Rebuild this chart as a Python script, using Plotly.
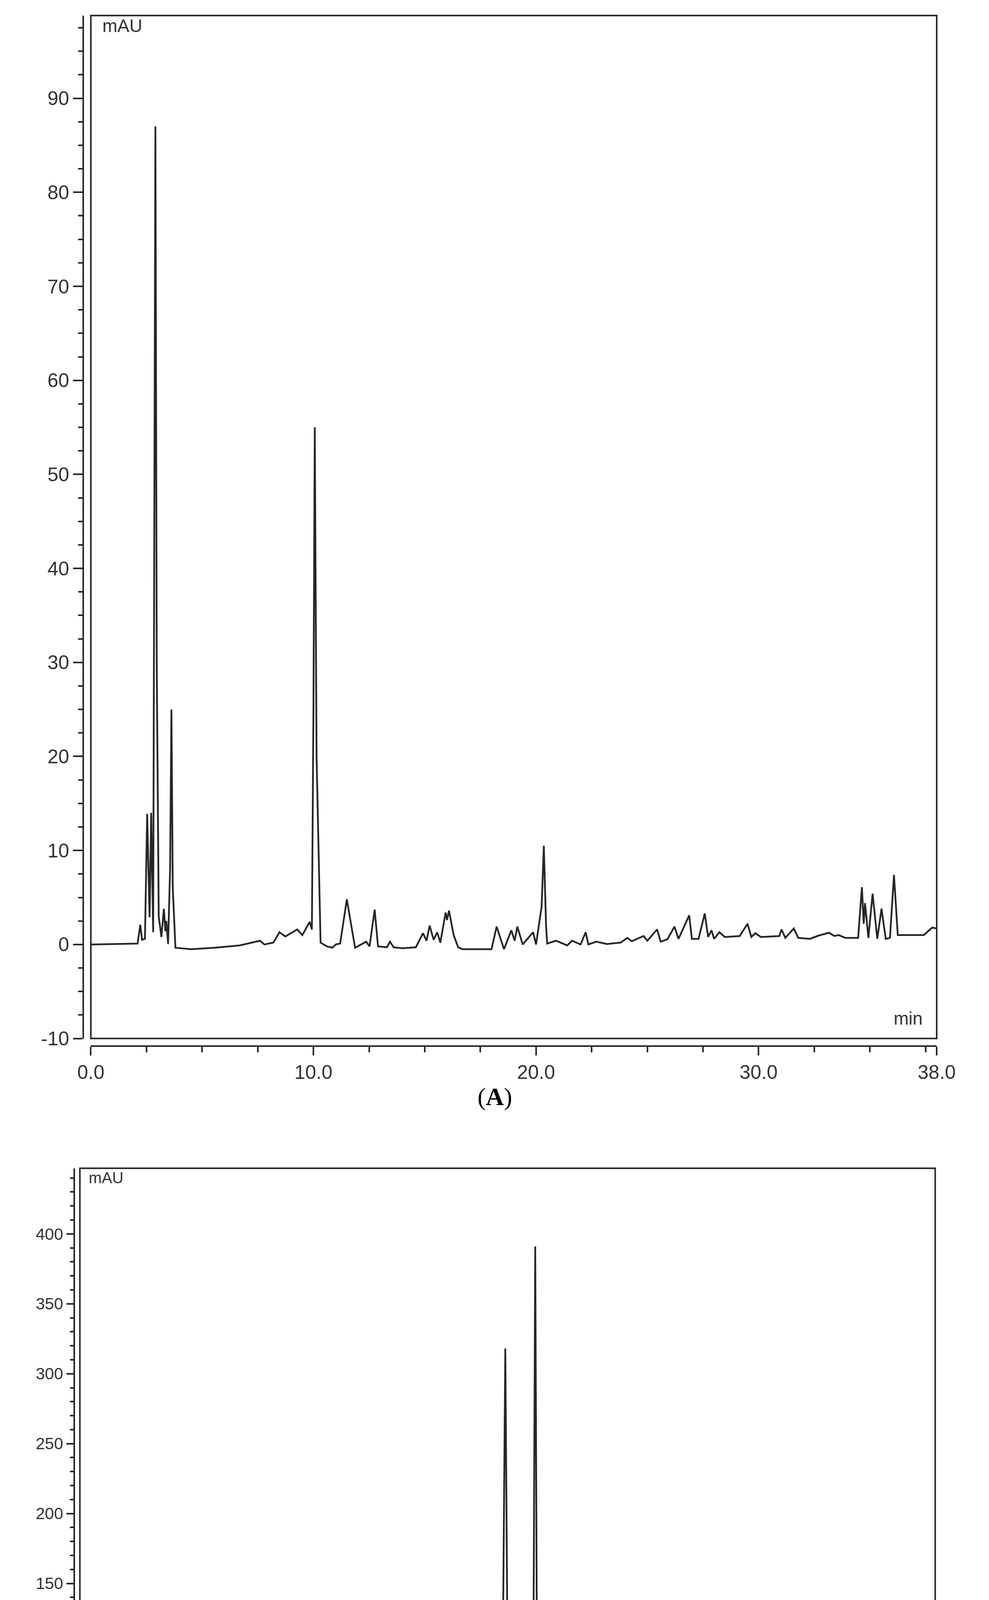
import plotly.graph_objects as go

W, H = 2531, 5011

# Panel A chromatogram (time in min, absorbance in mAU)
a_time = [0.0, 2.1, 2.22, 2.3, 2.43, 2.53, 2.64, 2.71, 2.8, 2.84, 2.9, 2.96, 3.05, 3.17, 3.28, 3.35, 3.39, 3.47,
          3.56, 3.62, 3.68, 3.8, 4.5, 5.55, 6.69, 7.6, 7.8, 8.2, 8.47, 8.74, 9.27, 9.5, 9.83, 9.93, 10.0, 10.06,
          10.14, 10.32, 10.6, 10.85, 11.0, 11.2, 11.5, 11.87, 12.37, 12.52, 12.75, 12.9, 13.3, 13.44, 13.6,
          14.0, 14.6, 14.92, 15.08, 15.22, 15.4, 15.56, 15.7, 15.94, 16.0, 16.09, 16.3, 16.5, 16.7, 18.0,
          18.23, 18.56, 18.89, 19.04, 19.16, 19.4, 19.87, 20.0, 20.25, 20.35, 20.45, 20.5, 20.9, 21.4, 21.62,
          22.0, 22.23, 22.35, 22.7, 23.18, 23.8, 24.1, 24.3, 24.83, 25.0, 25.44, 25.6, 25.9, 26.22, 26.4,
          26.88, 27.0, 27.3, 27.58, 27.73, 27.88, 28.0, 28.24, 28.48, 29.15, 29.5, 29.67, 29.85, 30.1, 30.93,
          31.03, 31.2, 31.58, 31.78, 32.3, 32.7, 33.16, 33.4, 33.6, 33.9, 34.47, 34.64, 34.72, 34.78, 34.93,
          35.12, 35.33, 35.52, 35.71, 35.9, 36.08, 36.25, 37.42, 37.8, 38.0]
a_signal = [0.0, 0.1, 2.1, 0.5, 0.6, 13.9, 2.9, 14.0, 1.3, 40.0, 87.0, 30.0, 3.0, 0.8, 3.8, 1.4, 2.5, 0.05,
            8.0, 25.0, 6.0, -0.35, -0.5, -0.35, -0.1, 0.4, 0.0, 0.2, 1.3, 0.85, 1.6, 1.0, 2.4, 1.6, 25.0, 55.0,
            20.0, 0.2, -0.2, -0.35, 0.0, 0.1, 4.8, -0.35, 0.3, -0.2, 3.7, -0.2, -0.3, 0.3, -0.3,
            -0.4, -0.3, 1.2, 0.4, 2.0, 0.5, 1.3, 0.2, 3.4, 2.6, 3.6, 1.0, -0.3, -0.5, -0.5,
            1.9, -0.5, 1.5, 0.4, 1.9, 0.0, 1.3, 0.0, 4.0, 10.5, 2.0, 0.1, 0.4, -0.1, 0.4,
            0.0, 1.3, 0.0, 0.3, 0.05, 0.2, 0.7, 0.35, 0.9, 0.4, 1.6, 0.3, 0.55, 1.9, 0.6,
            3.1, 0.6, 0.6, 3.3, 0.8, 1.5, 0.6, 1.3, 0.8, 0.9, 2.2, 0.8, 1.2, 0.8, 0.9,
            1.6, 0.7, 1.7, 0.7, 0.6, 0.95, 1.25, 0.9, 1.0, 0.7, 0.7, 6.1, 2.2, 4.4, 0.7,
            5.4, 0.6, 3.8, 0.6, 0.7, 7.4, 1.0, 1.0, 1.8, 1.7]

# Panel B chromatogram
b_time = [0.0, 2.47, 2.87, 3.06, 3.23, 3.42, 3.61, 3.82, 4.2, 4.56, 4.83, 5.2, 5.42, 5.64, 5.8, 6.0, 6.21,
          6.45, 6.8, 7.2, 8.0, 8.4, 9.5, 11.0, 11.3, 12.0, 12.4, 13.2, 13.4, 13.6, 13.86, 15.6, 15.9, 16.1,
          17.2, 17.4, 18.0, 18.3, 18.6, 18.8, 18.9, 19.0, 19.15, 19.47, 19.75, 20.04, 20.13, 20.23, 20.3,
          20.37, 20.45, 20.59, 21.05, 21.24, 21.45, 21.62, 21.75, 22.67, 23.2, 23.62, 23.81, 23.95, 24.08,
          24.44, 24.71, 24.93, 25.06, 25.25, 25.52, 25.71, 25.87, 26.01, 26.15, 26.34, 26.52, 26.66, 26.74,
          26.82, 26.96, 27.15, 27.56, 27.96, 28.13, 28.23, 28.78, 29.6, 30.54, 32.44, 34.34, 34.6, 34.78,
          34.92, 35.29, 35.5, 35.65, 35.8, 35.97, 36.15, 36.4, 36.8, 37.0, 37.15, 37.32, 37.54, 38.0]
b_signal = [0.0, 0.5, 8.0, 3.0, 6.7, 2.0, 13.8, 0.0, 0.0, 4.5, 0.0, 0.0, 7.5, 0.5, 3.0, 0.0, 9.0,
            1.5, 2.0, 0.0, 1.0, -0.3, 0.5, 1.0, -0.3, 2.5, 0.0, 1.5, 0.0, 10.4, 0.0, 0.0, 4.0, 0.0,
            2.0, 0.0, 5.5, 0.7, 3.0, 120.0, 318.0, 100.0, 3.0, 7.5, 3.0, 58.0, 33.0, 391.0, 120.0,
            3.0, 9.0, 3.0, 31.6, 3.7, 3.0, 15.6, 5.2, 6.7, 10.0, 9.0, 10.0, 46.5, 11.0,
            14.0, 19.4, 97.6, 35.0, 31.6, 26.0, 28.7, 34.0, 28.0, 31.6, 28.0, 29.0, 46.5, 31.6,
            75.0, 24.0, 23.0, 16.8, 12.0, 17.9, 11.0, 6.7, 3.7, 2.6, 1.5, 0.0, 1.0, 8.0,
            1.0, 0.7, 7.5, 2.6, 5.2, 2.2, 5.6, 0.0, 0.7, 9.0, 3.0, 9.3, 0.0, 0.0]

a_xticks = [0, 10, 20, 30, 38]
a_xlabels = ["0.0", "10.0", "20.0", "30.0", "38.0"]
a_yticks = [-10, 0, 10, 20, 30, 40, 50, 60, 70, 80, 90]
a_ylabels = ["-10", "0", "10", "20", "30", "40", "50", "60", "70", "80", "90"]
b_xticks = [0, 5, 10, 15, 20, 25, 30, 35, 38]
b_xlabels = ["0.0", "5.0", "10.0", "15.0", "20.0", "25.0", "30.0", "35.0", "38.0"]
b_yticks = [-50, 0, 50, 100, 150, 200, 250, 300, 350, 400]
b_ylabels = ["-50", "0", "50", "100", "150", "200", "250", "300", "350", "400"]

LINE = "#262626"
TXT = "#333333"
FONT = "Liberation Sans"

def px(v):  # pixel -> paper x
    return v / W

def py(v):  # pixel -> paper y (from top)
    return 1 - v / H

fig = go.Figure()
fig.add_trace(go.Scatter(x=a_time, y=a_signal, mode="lines", line=dict(color=LINE, width=4.5),
                         xaxis="x", yaxis="y", showlegend=False))
fig.add_trace(go.Scatter(x=b_time, y=b_signal, mode="lines", line=dict(color=LINE, width=4.5),
                         xaxis="x2", yaxis="y2", showlegend=False))

common_axis = dict(showgrid=False, zeroline=False, showline=True, linecolor=LINE, linewidth=4,
                   ticks="outside", tickcolor=LINE, tickwidth=4, tickfont=dict(family=FONT, color=TXT))

fig.update_layout(
    width=W, height=H, margin=dict(l=0, r=0, t=0, b=0),
    paper_bgcolor="white", plot_bgcolor="white",
    xaxis=dict(common_axis, domain=[px(196), px(2435)], range=[0, 38], anchor="free", position=py(2686),
               tickvals=a_xticks, ticktext=a_xlabels, ticklen=22, tickfont=dict(family=FONT, color=TXT, size=50),
               minor=dict(dtick=2.5, tick0=0, ticks="outside", ticklen=14, tickwidth=4, tickcolor=LINE)),
    yaxis=dict(common_axis, domain=[py(2666), py(32)], range=[-10, 98.8], anchor="free", position=px(176),
               tickvals=a_yticks, ticktext=a_ylabels, ticklen=24, tickfont=dict(family=FONT, color=TXT, size=50),
               minor=dict(dtick=2.5, tick0=0, ticks="outside", ticklen=11, tickwidth=4, tickcolor=LINE)),
    xaxis2=dict(common_axis, domain=[px(167), px(2431)], range=[0, 38], anchor="free", position=py(4805),
                tickvals=b_xticks, ticktext=b_xlabels, ticklen=20, tickfont=dict(family=FONT, color=TXT, size=42),
                minor=dict(dtick=1, tick0=0, ticks="outside", ticklen=12, tickwidth=4, tickcolor=LINE)),
    yaxis2=dict(common_axis, domain=[py(4789), py(3000)], range=[-50, 447], anchor="free", position=px(152),
                tickvals=b_yticks, ticktext=b_ylabels, ticklen=18, tickfont=dict(family=FONT, color=TXT, size=42),
                minor=dict(dtick=10, tick0=0, ticks="outside", ticklen=9, tickwidth=4, tickcolor=LINE)),
)

for xr, yr in (("x", "y"), ("x2", "y2")):
    fig.add_shape(type="rect", xref=f"{xr} domain", yref=f"{yr} domain", x0=0, x1=1, y0=0, y1=1,
                  line=dict(color=LINE, width=4), layer="above")

fig.add_annotation(text="mAU", x=px(224), y=py(58), xref="paper", yref="paper", showarrow=False,
                   xanchor="left", yanchor="middle", font=dict(family=FONT, size=46, color=TXT))
fig.add_annotation(text="mAU", x=px(188), y=py(3025), xref="paper", yref="paper", showarrow=False,
                   xanchor="left", yanchor="middle", font=dict(family=FONT, size=40, color=TXT))
fig.add_annotation(text="min", x=px(2400), y=py(2614), xref="paper", yref="paper", showarrow=False,
                   xanchor="right", yanchor="middle", font=dict(family=FONT, size=46, color=TXT))
fig.add_annotation(text="min", x=px(2402), y=py(4748), xref="paper", yref="paper", showarrow=False,
                   xanchor="right", yanchor="middle", font=dict(family=FONT, size=40, color=TXT))
fig.add_annotation(text="(<b>A</b>)", x=px(1265), y=py(2816), xref="paper", yref="paper", showarrow=False,
                   xanchor="center", yanchor="middle", font=dict(family="Liberation Serif", size=64, color="black"))
fig.add_annotation(text="(<b>B</b>)", x=px(1265), y=py(4950), xref="paper", yref="paper", showarrow=False,
                   xanchor="center", yanchor="middle", font=dict(family="Liberation Serif", size=64, color="black"))

fig.write_html("out.html")
